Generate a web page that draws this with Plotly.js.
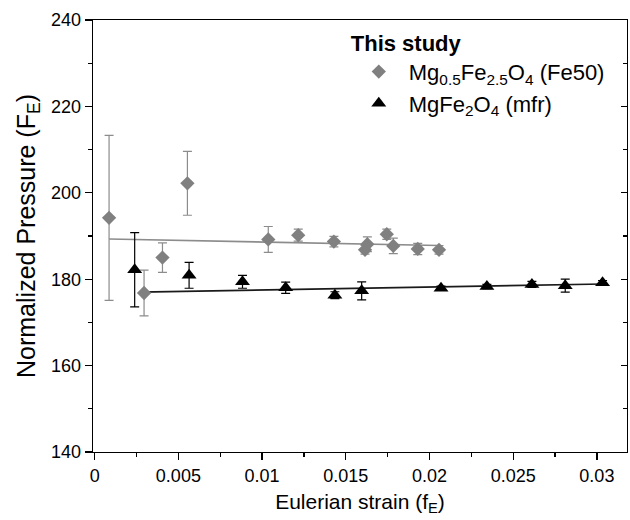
<!DOCTYPE html>
<html>
<head>
<meta charset="utf-8">
<script src="https://cdn.plot.ly/plotly-3.0.1.min.js"></script>
<style>html,body{margin:0;padding:0;background:#fff;}#chart{width:630px;height:520px;}</style>
</head>
<body>
<div id="chart"></div>
<script>
// Mg0.5Fe2.5O4 (Fe50) series
const fe50Strain = [0.00086, 0.00295, 0.00405, 0.00554, 0.01037, 0.01216, 0.01429, 0.01615, 0.01629, 0.01745, 0.01784, 0.0193, 0.02057];
const fe50Pressure = [194.2, 176.8, 185.0, 202.2, 189.2, 190.2, 188.7, 186.8, 188.1, 190.4, 187.7, 187.0, 186.8];
const fe50Err = [19.1, 5.3, 3.4, 7.4, 3.0, 1.4, 1.2, 1.0, 1.7, 1.2, 1.8, 1.3, 1.0];
// MgFe2O4 (mfr) series
const mfrStrain = [0.00239, 0.00564, 0.00883, 0.01141, 0.01435, 0.01595, 0.02069, 0.02343, 0.02612, 0.02811, 0.03034];
const mfrPressure = [182.2, 180.9, 179.4, 178.0, 176.3, 177.3, 177.9, 178.3, 178.8, 178.5, 179.2];
const mfrErr = [8.6, 3.0, 1.5, 1.3, 0.8, 2.1, 0.5, 0.5, 0.7, 1.5, 0.5];
// linear fit lines (end points)
const fe50FitX = [0.00086, 0.02057];
const fe50FitY = [189.3, 187.8];
const mfrFitX = [0.0027, 0.0304];
const mfrFitY = [177.0, 178.9];

const FONT = 'Liberation Sans, Arial, sans-serif';
const gray = '#808080';

const traces = [
  {x: fe50FitX, y: fe50FitY, mode: 'lines', line: {color: '#8c8c8c', width: 1.6}, showlegend: false, hoverinfo: 'skip'},
  {x: mfrFitX, y: mfrFitY, mode: 'lines', line: {color: '#1a1a1a', width: 1.6}, showlegend: false, hoverinfo: 'skip'},
  {x: fe50Strain, y: fe50Pressure, mode: 'markers', name: 'Mg<sub>0.5</sub>Fe<sub>2.5</sub>O<sub>4</sub> (Fe50)',
   marker: {symbol: 'diamond', size: 11, color: gray},
   error_y: {type: 'data', array: fe50Err, visible: true, color: '#8c8c8c', thickness: 1.2, width: 4.5}},
  {x: mfrStrain, y: mfrPressure, mode: 'markers', name: 'MgFe<sub>2</sub>O<sub>4</sub> (mfr)',
   marker: {symbol: 'triangle-up', size: 13, color: '#000'},
   error_y: {type: 'data', array: mfrErr, visible: true, color: '#000', thickness: 1.2, width: 4.5}},
  {x: [0], y: [0], yaxis: 'y2', mode: 'markers', marker: {opacity: 0}, showlegend: false, hoverinfo: 'skip'}
];

const layout = {
  width: 630, height: 520,
  margin: {l: 93, r: 3, t: 20, b: 68},
  paper_bgcolor: '#fff', plot_bgcolor: '#fff',
  font: {family: FONT, color: '#000'},
  showlegend: true,
  legend: {
    x: 0.479, y: 0.995, xanchor: 'left', yanchor: 'top',
    bgcolor: 'rgba(0,0,0,0)', borderwidth: 0,
    font: {family: FONT, size: 22, color: '#000'},
    title: {text: '<b>This study</b>', font: {family: FONT, size: 22, color: '#000'}},
    itemwidth: 50, tracegroupgap: 0
  },
  xaxis: {
    range: [-0.0001, 0.0318], dtick: 0.005, tick0: 0,
    showgrid: false, zeroline: false,
    showline: true, linecolor: '#000', linewidth: 1.3, mirror: true,
    ticks: 'outside', ticklen: 7, tickwidth: 1.3, tickcolor: '#000',
    minor: {dtick: 0.0025, ticks: 'outside', ticklen: 4, tickwidth: 1.3, tickcolor: '#000'},
    tickfont: {family: FONT, size: 18, color: '#000'},
    title: {text: 'Eulerian strain (f<sub>E</sub>)', font: {family: FONT, size: 21, color: '#000'}, standoff: 9}
  },
  yaxis: {
    range: [140, 240], dtick: 20, tick0: 140,
    showgrid: false, zeroline: false,
    showline: true, linecolor: '#000', linewidth: 1.3, mirror: true,
    ticks: 'outside', ticklen: 7, tickwidth: 1.3, tickcolor: '#000',
    minor: {dtick: 10, ticks: 'outside', ticklen: 4, tickwidth: 1.3, tickcolor: '#000'},
    tickfont: {family: FONT, size: 18, color: '#000'},
    title: {text: 'Normalized Pressure (F<sub>E</sub>)', font: {family: FONT, size: 25, color: '#000'}, standoff: 8}
  },
  yaxis2: {
    overlaying: 'y', side: 'right', range: [140, 240], dtick: 20, tick0: 140,
    showgrid: false, zeroline: false, showline: false, showticklabels: false,
    ticks: 'inside', ticklen: 6, tickwidth: 1.3, tickcolor: '#000',
    minor: {dtick: 10, ticks: 'inside', ticklen: 4, tickwidth: 1.3, tickcolor: '#000'}
  }
};

Plotly.newPlot('chart', traces, layout, {displayModeBar: false, staticPlot: true});
</script>
</body>
</html>
